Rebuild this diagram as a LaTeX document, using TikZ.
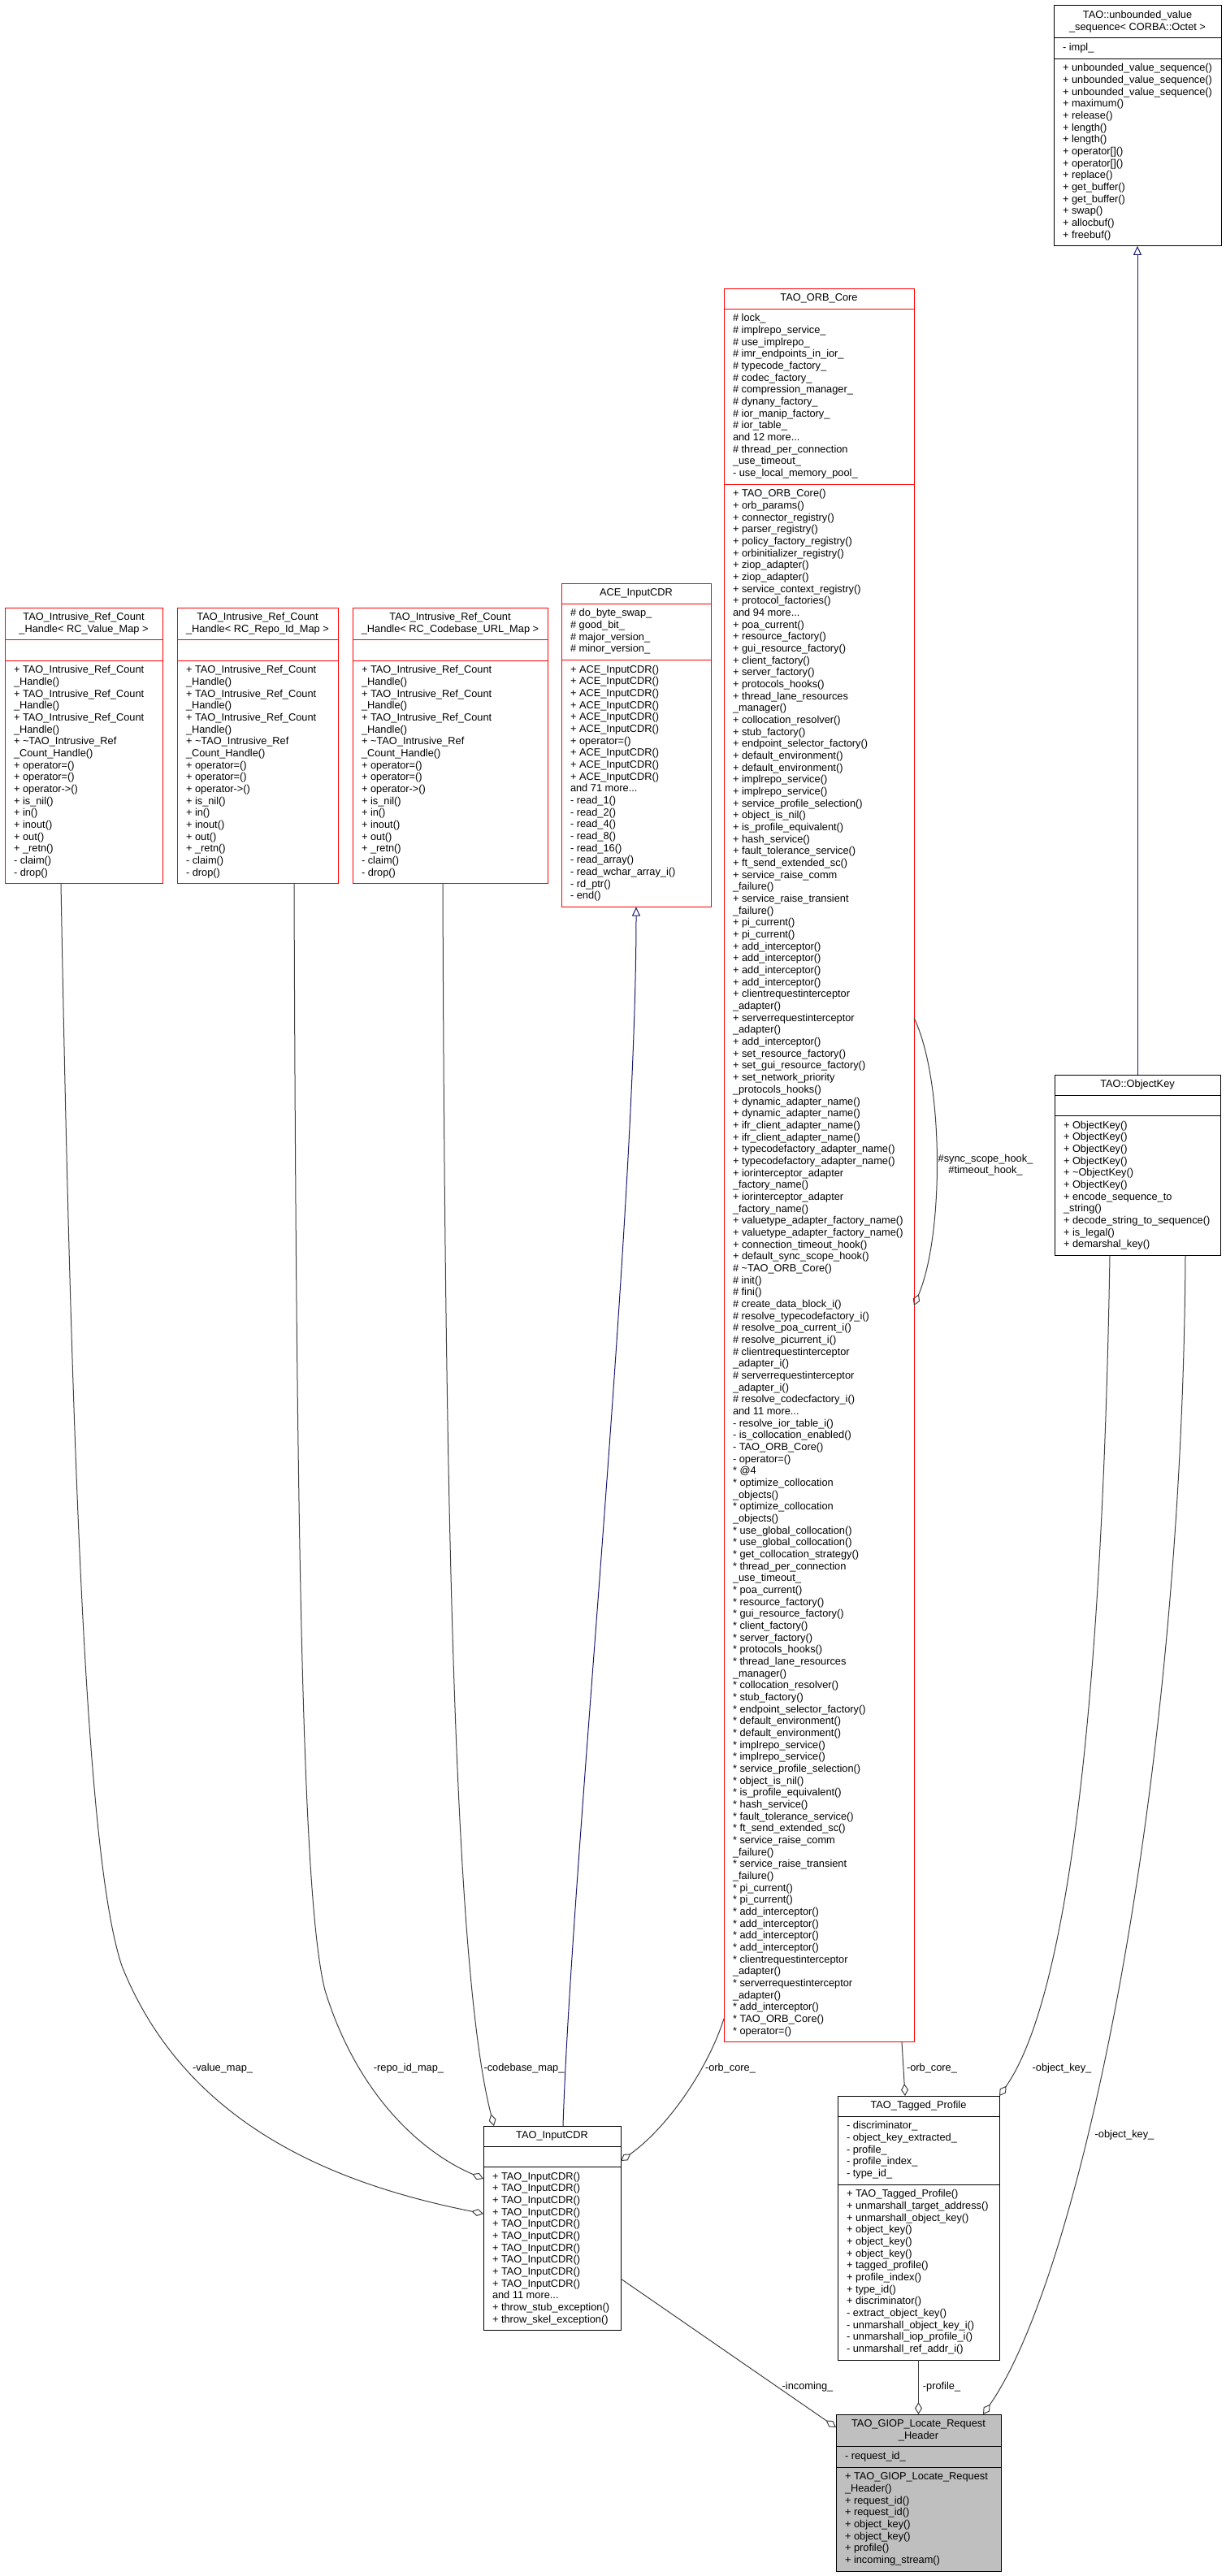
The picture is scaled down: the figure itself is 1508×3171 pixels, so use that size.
\documentclass[tikz,border=0pt]{standalone}
\usepackage{fontspec}
\setmainfont{Liberation Sans}
\usetikzlibrary{arrows.meta,fit,backgrounds}
\definecolor{edgegray}{HTML}{404040}
\definecolor{midblue}{HTML}{191970}
\definecolor{boxred}{HTML}{FF0000}
\definecolor{giopgray}{HTML}{BFBFBF}
\tikzset{
  umlfont/.style={font=\fontsize{12.8pt}{14.67pt}\selectfont},
  ctitle/.style={umlfont, inner xsep=0pt, inner ysep=5.3pt, outer sep=0pt},
  cpart/.style={umlfont, inner xsep=11pt, inner ysep=5.3pt, outer sep=0pt},
  cframe/.style={draw=black, line width=1pt, inner sep=0pt, outer sep=0pt},
  cline/.style={draw=black, line width=1pt},
  agg/.style={draw=edgegray, line width=1pt, -{Diamond[open, length=15pt, width=9pt]}},
  inh/.style={draw=midblue, line width=1pt, -{Triangle[open, length=11pt, width=10pt]}},
  elabel/.style={font=\fontsize{12.8pt}{14pt}\selectfont, align=center, inner sep=0pt},
}
% #1 name, #2 top-left x,y, #3 width, #4 frame options, #5 title, #6 attributes, #7 methods
\newcommand\umlclass[7]{%
  \node[ctitle, minimum width=#3pt, anchor=north west] (#1t) at (#2) {\begin{tabular}{@{}c@{}}\relax#5\end{tabular}};
  \node[cpart, anchor=north west] (#1a) at (#1t.south west) {\begin{tabular}{@{}l@{}}\relax#6\end{tabular}};
  \node[cpart, anchor=north west] (#1m) at (#1a.south west) {\begin{tabular}{@{}l@{}}\relax#7\end{tabular}};
  \begin{scope}[on background layer]
    \node[cframe, #4, fit=(#1t)(#1m.south west)] (#1) {};
  \end{scope}
  \draw[cline, #4] (#1t.south west) -- (#1t.south east);
  \draw[cline, #4] (#1a.south west) -- (#1a.south west -| #1t.south east);
}
\begin{document}
\catcode`\_=12
\newcommand\rcmethods{+ TAO_Intrusive_Ref_Count\\_Handle()\\+ TAO_Intrusive_Ref_Count\\_Handle()\\+ TAO_Intrusive_Ref_Count\\_Handle()\\+ \textasciitilde{}TAO_Intrusive_Ref\\_Count_Handle()\\+ operator=()\\+ operator=()\\+ operator->()\\+ is_nil()\\+ in()\\+ inout()\\+ out()\\+ _retn()\\- claim()\\- drop()}
\begin{tikzpicture}[x=1pt,y=-1pt]
\begin{scope}[on background layer]
\fill[white] (0,0) rectangle (1508,3171);
\end{scope}
\useasboundingbox (0,0) rectangle (1508,3171);

% ---------------- classes ----------------
\umlclass{uvs}{1297,7}{206}{}{TAO::unbounded_value\\_sequence< CORBA::Octet >}{- impl_}{%
+ unbounded_value_sequence()\\+ unbounded_value_sequence()\\+ unbounded_value_sequence()\\+ maximum()\\+ release()\\+ length()\\+ length()\\+ operator[]()\\+ operator[]()\\+ replace()\\+ get_buffer()\\+ get_buffer()\\+ swap()\\+ allocbuf()\\+ freebuf()}

\umlclass{orb}{891,355}{234}{draw=boxred}{TAO_ORB_Core}{%
\# lock_\\\# implrepo_service_\\\# use_implrepo_\\\# imr_endpoints_in_ior_\\\# typecode_factory_\\\# codec_factory_\\\# compression_manager_\\\# dynany_factory_\\\# ior_manip_factory_\\\# ior_table_\\and 12 more...\\\# thread_per_connection\\_use_timeout_\\- use_local_memory_pool_}{%
+ TAO_ORB_Core()\\+ orb_params()\\+ connector_registry()\\+ parser_registry()\\+ policy_factory_registry()\\+ orbinitializer_registry()\\+ ziop_adapter()\\+ ziop_adapter()\\+ service_context_registry()\\+ protocol_factories()\\and 94 more...\\%
+ poa_current()\\+ resource_factory()\\+ gui_resource_factory()\\+ client_factory()\\+ server_factory()\\+ protocols_hooks()\\+ thread_lane_resources\\_manager()\\+ collocation_resolver()\\+ stub_factory()\\+ endpoint_selector_factory()\\+ default_environment()\\+ default_environment()\\+ implrepo_service()\\+ implrepo_service()\\+ service_profile_selection()\\+ object_is_nil()\\+ is_profile_equivalent()\\+ hash_service()\\+ fault_tolerance_service()\\+ ft_send_extended_sc()\\+ service_raise_comm\\_failure()\\+ service_raise_transient\\_failure()\\+ pi_current()\\+ pi_current()\\+ add_interceptor()\\+ add_interceptor()\\+ add_interceptor()\\+ add_interceptor()\\+ clientrequestinterceptor\\_adapter()\\+ serverrequestinterceptor\\_adapter()\\+ add_interceptor()\\+ set_resource_factory()\\+ set_gui_resource_factory()\\+ set_network_priority\\_protocols_hooks()\\+ dynamic_adapter_name()\\+ dynamic_adapter_name()\\+ ifr_client_adapter_name()\\+ ifr_client_adapter_name()\\+ typecodefactory_adapter_name()\\+ typecodefactory_adapter_name()\\+ iorinterceptor_adapter\\_factory_name()\\+ iorinterceptor_adapter\\_factory_name()\\+ valuetype_adapter_factory_name()\\+ valuetype_adapter_factory_name()\\+ connection_timeout_hook()\\+ default_sync_scope_hook()\\%
\# \textasciitilde{}TAO_ORB_Core()\\\# init()\\\# fini()\\\# create_data_block_i()\\\# resolve_typecodefactory_i()\\\# resolve_poa_current_i()\\\# resolve_picurrent_i()\\\# clientrequestinterceptor\\_adapter_i()\\\# serverrequestinterceptor\\_adapter_i()\\\# resolve_codecfactory_i()\\and 11 more...\\%
- resolve_ior_table_i()\\- is_collocation_enabled()\\- TAO_ORB_Core()\\- operator=()\\%
{*} @4\\{*} optimize_collocation\\_objects()\\{*} optimize_collocation\\_objects()\\{*} use_global_collocation()\\{*} use_global_collocation()\\{*} get_collocation_strategy()\\{*} thread_per_connection\\_use_timeout_\\{*} poa_current()\\{*} resource_factory()\\{*} gui_resource_factory()\\{*} client_factory()\\{*} server_factory()\\{*} protocols_hooks()\\{*} thread_lane_resources\\_manager()\\{*} collocation_resolver()\\{*} stub_factory()\\{*} endpoint_selector_factory()\\{*} default_environment()\\{*} default_environment()\\{*} implrepo_service()\\{*} implrepo_service()\\{*} service_profile_selection()\\{*} object_is_nil()\\{*} is_profile_equivalent()\\{*} hash_service()\\{*} fault_tolerance_service()\\{*} ft_send_extended_sc()\\{*} service_raise_comm\\_failure()\\{*} service_raise_transient\\_failure()\\{*} pi_current()\\{*} pi_current()\\{*} add_interceptor()\\{*} add_interceptor()\\{*} add_interceptor()\\{*} add_interceptor()\\{*} clientrequestinterceptor\\_adapter()\\{*} serverrequestinterceptor\\_adapter()\\{*} add_interceptor()\\{*} TAO_ORB_Core()\\{*} operator=()}

\umlclass{ok}{1298,1323}{204}{}{TAO::ObjectKey}{}{%
+ ObjectKey()\\+ ObjectKey()\\+ ObjectKey()\\+ ObjectKey()\\+ \textasciitilde{}ObjectKey()\\+ ObjectKey()\\+ encode_sequence_to\\_string()\\+ decode_string_to_sequence()\\+ is_legal()\\+ demarshal_key()}

\umlclass{rca}{6,748}{194}{draw=boxred}{TAO_Intrusive_Ref_Count\\_Handle< RC_Value_Map >}{}{\rcmethods}
\umlclass{rcb}{218,748}{198}{draw=boxred}{TAO_Intrusive_Ref_Count\\_Handle< RC_Repo_Id_Map >}{}{\rcmethods}
\umlclass{rcc}{434,748}{240}{draw=boxred}{TAO_Intrusive_Ref_Count\\_Handle< RC_Codebase_URL_Map >}{}{\rcmethods}

\umlclass{ace}{691,718}{184}{draw=boxred}{ACE_InputCDR}{%
\# do_byte_swap_\\\# good_bit_\\\# major_version_\\\# minor_version_}{%
+ ACE_InputCDR()\\+ ACE_InputCDR()\\+ ACE_InputCDR()\\+ ACE_InputCDR()\\+ ACE_InputCDR()\\+ ACE_InputCDR()\\+ operator=()\\+ ACE_InputCDR()\\+ ACE_InputCDR()\\+ ACE_InputCDR()\\and 71 more...\\- read_1()\\- read_2()\\- read_4()\\- read_8()\\- read_16()\\- read_array()\\- read_wchar_array_i()\\- rd_ptr()\\- end()}

\umlclass{icdr}{595,2617}{169}{}{TAO_InputCDR}{}{%
+ TAO_InputCDR()\\+ TAO_InputCDR()\\+ TAO_InputCDR()\\+ TAO_InputCDR()\\+ TAO_InputCDR()\\+ TAO_InputCDR()\\+ TAO_InputCDR()\\+ TAO_InputCDR()\\+ TAO_InputCDR()\\+ TAO_InputCDR()\\and 11 more...\\+ throw_stub_exception()\\+ throw_skel_exception()}

\umlclass{tp}{1031,2580}{199}{}{TAO_Tagged_Profile}{%
- discriminator_\\- object_key_extracted_\\- profile_\\- profile_index_\\- type_id_}{%
+ TAO_Tagged_Profile()\\+ unmarshall_target_address()\\+ unmarshall_object_key()\\+ object_key()\\+ object_key()\\+ object_key()\\+ tagged_profile()\\+ profile_index()\\+ type_id()\\+ discriminator()\\- extract_object_key()\\- unmarshall_object_key_i()\\- unmarshall_iop_profile_i()\\- unmarshall_ref_addr_i()}

\umlclass{giop}{1029,2972}{203}{fill=giopgray}{TAO_GIOP_Locate_Request\\_Header}{- request_id_}{%
+ TAO_GIOP_Locate_Request\\_Header()\\+ request_id()\\+ request_id()\\+ object_key()\\+ object_key()\\+ profile()\\+ incoming_stream()}

% ---------------- edge labels ----------------
\node[elabel] (lsync) at (1213,1434) {\#sync_scope_hook_\\\#timeout_hook_};
\node[elabel] (lvm) at (274,2546) {-value_map_};
\node[elabel] (lri) at (503,2546) {-repo_id_map_};
\node[elabel] (lcb) at (645,2546) {-codebase_map_};
\node[elabel] (loca) at (899,2546) {-orb_core_};
\node[elabel] (locb) at (1147,2546) {-orb_core_};
\node[elabel] (loka) at (1307,2546) {-object_key_};
\node[elabel] (lokb) at (1384,2628) {-object_key_};
\node[elabel] (linc) at (994,2938) {-incoming_};
\node[elabel] (lpro) at (1159,2938) {-profile_};

% ---------------- inheritance ----------------
\draw[inh] (ok.north) -- (uvs.south);
\draw[inh] (icdr.north -| 693,0) .. controls (703,2300) and (783,1500) .. (ace.south);

% ---------------- aggregation ----------------
\draw[agg] (rca.south -| 75,0) .. controls (90,1900) and (110,2300) .. (150,2420) .. controls (230,2620) and (420,2690) .. (icdr.west |- 0,2725);
\draw[agg] (rcb.south -| 362,0) .. controls (365,2000) and (375,2350) .. (400,2450) .. controls (440,2580) and (520,2650) .. (icdr.west |- 0,2682);
\draw[agg] (rcc.south -| 545,0) .. controls (548,2000) and (565,2450) .. (icdr.north -| 608,0);
\draw[agg] (orb.west |- 0,2485) .. controls (870,2550) and (820,2620) .. (icdr.east |- 0,2660);
\draw[agg] (orb.east |- 0,1253) .. controls (1162,1330) and (1162,1520) .. (orb.east |- 0,1607);
\draw[agg] (orb.south -| 1110,0) -- (tp.north -| 1114,0);
\draw[agg] (ok.south -| 1366,0) .. controls (1355,2200) and (1300,2480) .. (tp.north east);
\draw[agg] (ok.south -| 1459,0) .. controls (1455,2200) and (1330,2800) .. (giop.north -| 1210,0);
\draw[agg] (tp.south) -- (giop.north);
\draw[agg] (icdr.east |- 0,2805) -- (giop.west |- 0,2988);
\end{tikzpicture}
\end{document}
